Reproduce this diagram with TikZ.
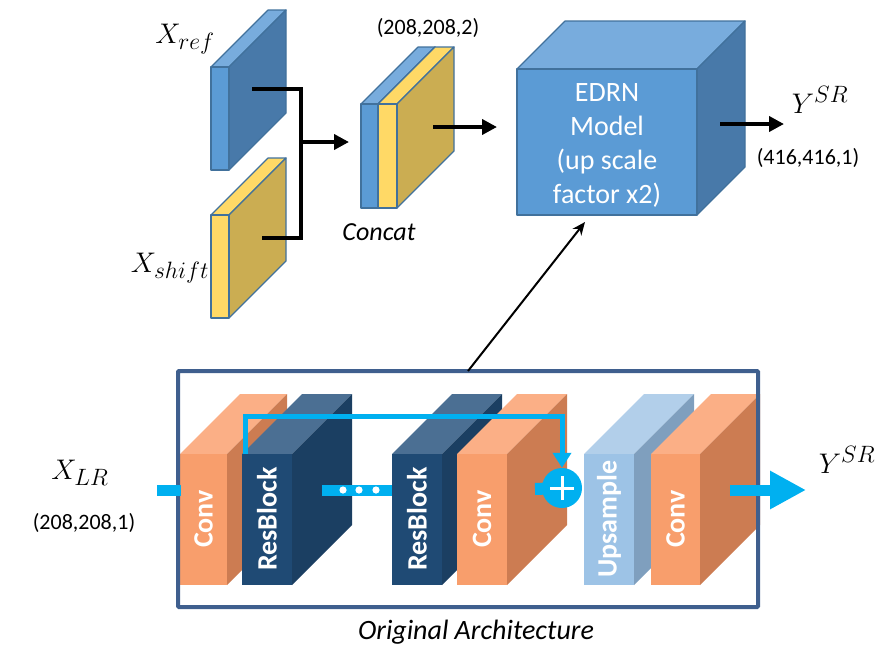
\documentclass[tikz,border=0pt]{standalone}
\usepackage{graphicx}
\usepackage{fontspec}
\setmainfont{Carlito}
\usetikzlibrary{arrows.meta,calc}

% palette
\definecolor{edge}{HTML}{41719C}
\definecolor{bluefront}{HTML}{5B9BD5}
\definecolor{blueside}{HTML}{4879A9}
\definecolor{bluetop}{HTML}{78ACDD}
\definecolor{goldfront}{HTML}{FFD966}
\definecolor{goldside}{HTML}{CBAD52}
\definecolor{orfront}{HTML}{F89E6C}
\definecolor{orside}{HTML}{CC7C52}
\definecolor{ortop}{HTML}{FBAF86}
\definecolor{navyfront}{HTML}{1F4A74}
\definecolor{navyside}{HTML}{1B3F62}
\definecolor{navytop}{HTML}{4B6F93}
\definecolor{upfront}{HTML}{9DC3E6}
\definecolor{upside}{HTML}{7F9FBE}
\definecolor{uptop}{HTML}{B2CFEA}
\definecolor{flow}{HTML}{00B0F0}
\definecolor{frame}{HTML}{3F5F8E}

% cuboid: x, y (front top-left), width, height, depth, front, side, top, extra style
\newcommand{\cuboid}[9]{%
  \path[fill=#8,#9] (#1,#2) -- ++(#5,-#5) -- ++(#3,0) -- ++(-#5,#5) -- cycle;
  \path[fill=#7,#9] (#1+#3,#2) -- ++(#5,-#5) -- ++(0,#4) -- ++(-#5,#5) -- cycle;
  \path[fill=#6,#9] (#1,#2) rectangle ++(#3,#4);
}
% enlarged math label
\newcommand{\bigmath}[1]{\scalebox{1.14}{\fontsize{24.88}{30}\selectfont$#1$}}

\tikzset{
  outlined/.style={draw=edge, line width=1.2pt, line join=round},
  dimlbl/.style={font=\fontsize{22}{26}\selectfont},
  blocklbl/.style={rotate=90, text=white, font=\fontsize{28}{32}\selectfont\bfseries},
  blackflow/.style={line width=4pt, -{Triangle[length=15pt,width=15pt]}},
  cyanbar/.style={draw=flow, line width=11pt},
}

\begin{document}
\begin{tikzpicture}[x=1pt, y=-1pt]
\useasboundingbox (0,0) rectangle (887,654);

% ---------- input slabs and concatenation ----------
\cuboid{211}{67}{18}{103}{57}{bluefront}{blueside}{bluetop}{outlined}
\cuboid{211}{215}{18}{103}{57}{goldfront}{goldside}{goldfront}{outlined}
\cuboid{361}{104}{17}{104}{57}{bluefront}{blueside}{bluetop}{outlined}
\cuboid{378}{104}{19}{104}{57}{goldfront}{goldside}{goldfront}{outlined}

\node (xref) at (185,39) {\bigmath{X_{ref}}};
\node (xshift) at (170,268) {\bigmath{X_{shift}}};
\node[dimlbl] (catdim) at (428,28) {(208,208,2)};
\node[font=\fontsize{26}{30}\selectfont\itshape] (catlbl) at (379,232) {Concat};

\coordinate (refout) at (252,89);
\coordinate (shiftout) at (262,238);
\coordinate (joinpt) at (301,142);
\coordinate (catin) at (349,142);
\coordinate (catout) at (433,127);
\coordinate (edrnin) at (497,127);

\draw[line width=4pt] (refout) -| (301,238) -- (shiftout);
\draw[blackflow] (joinpt) -- (catin);
\draw[blackflow] (catout) -- (edrnin);

% ---------- EDRN model ----------
\cuboid{517}{69}{180}{146}{48}{bluefront}{blueside}{bluetop}{outlined}
\node[text=white, align=center, font=\fontsize{28}{34.3}\selectfont] (edrn) at (607,145.5)
  {EDRN\\Model\\(up scale\\factor x2)};

\coordinate (edrnout) at (720,124);
\coordinate (ysrtip) at (784,124);
\draw[blackflow] (edrnout) -- (ysrtip);
\node (ysrtop) at (820,100) {\bigmath{Y^{SR}}};
\node[dimlbl] (ysrdim) at (808,158) {(416,416,1)};

% ---------- original architecture ----------
\cuboid{180}{454}{47}{131}{60}{orfront}{orside}{ortop}{}
\cuboid{242}{454}{50}{131}{60}{navyfront}{navyside}{navytop}{}
\cuboid{392}{454}{50}{131}{60}{navyfront}{navyside}{navytop}{}
\cuboid{457}{454}{50}{131}{60}{orfront}{orside}{ortop}{}
\cuboid{584}{454}{50}{131}{60}{upfront}{upside}{uptop}{}
\cuboid{651}{454}{49}{131}{60}{orfront}{orside}{ortop}{}

\node[blocklbl] (conva) at (203.5,519) {Conv};
\node[blocklbl] (resa) at (267,519) {ResBlock};
\node[blocklbl] (resb) at (417,519) {ResBlock};
\node[blocklbl] (convb) at (482,519) {Conv};
\node[blocklbl] (upsm) at (609,519) {Upsample};
\node[blocklbl] (convc) at (675.5,519) {Conv};

% frame
\draw[frame, line width=4pt, rounded corners=1pt] (178,371) rectangle (758,607);
\coordinate (archtop) at (468,371);
\coordinate (edrnbot) at (585,222);
\draw[line width=2pt, -{Stealth[length=13pt,width=11pt]}] (archtop) -- (edrnbot);

% data flow
\coordinate (lrin) at (157,490);
\coordinate (convin) at (181,490);
\coordinate (resaout) at (322,490);
\coordinate (resbin) at (392,490);
\draw[cyanbar] (lrin) -- (convin);
\draw[cyanbar] (resaout) -- (resbin);
\foreach \px in {343,359,376} \fill[white] (\px,490) circle (3.6pt);

\coordinate (sumc) at (562,488);
\coordinate (convbout) at (535,489);
\draw[flow, line width=12pt] (convbout) -- (sumc);
\node[circle, fill=flow, minimum size=40pt, inner sep=0pt] (sum) at (sumc) {};
\draw[white, line width=3pt] ($(sum)+(-12,0)$) -- ($(sum)+(12,0)$) ($(sum)+(0,-12)$) -- ($(sum)+(0,12)$);

\coordinate (skipstart) at (245,454);
\draw[flow, line width=5pt, -{Triangle[length=15pt,width=18pt]}]
  (skipstart) -- (245,416) -| (sum.north);

\coordinate (outstart) at (730,490);
\coordinate (outtip) at (806,490);
\draw[flow, line width=11pt, -{Triangle[length=36pt,width=36pt]}] (outstart) -- (outtip);

\node (xlr) at (80,473) {\bigmath{X_{LR}}};
\node[dimlbl] (xlrdim) at (84,523) {(208,208,1)};
\node (ysrbot) at (847,460) {\bigmath{Y^{SR}}};
\node[font=\fontsize{28}{32}\selectfont\itshape] (archlbl) at (476,632) {Original Architecture};

\end{tikzpicture}
\end{document}
